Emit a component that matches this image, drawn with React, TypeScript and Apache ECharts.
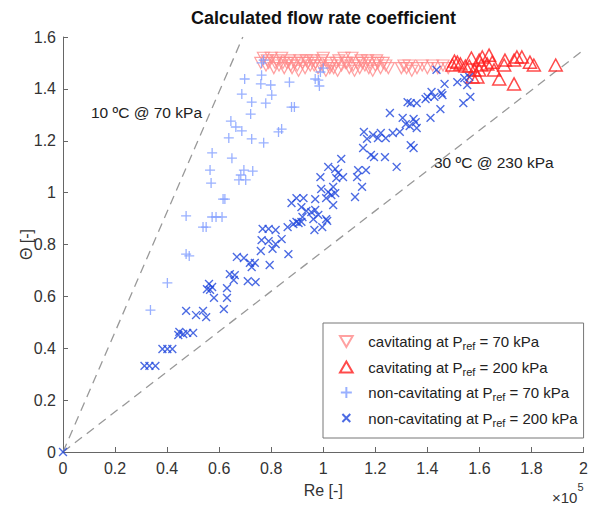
import React, { useEffect, useRef } from "react";
import * as echarts from "echarts";

const FONT = '"Liberation Sans", Arial, Helvetica, sans-serif';

// Re in units of 1e5, Theta [-]
const cav70: number[][] = [
  [0.76, 1.5], [0.77, 1.52], [0.78, 1.49], [0.785, 1.51], [0.79, 1.5], [0.8, 1.52], [0.81, 1.48], [0.815, 1.5],
  [0.82, 1.51], [0.83, 1.49], [0.84, 1.52], [0.845, 1.5], [0.85, 1.48], [0.86, 1.5], [0.87, 1.51], [0.875, 1.49],
  [0.88, 1.48], [0.89, 1.5], [0.9, 1.49], [0.905, 1.47], [0.91, 1.51], [0.92, 1.5], [0.93, 1.48], [0.935, 1.51],
  [0.94, 1.5], [0.95, 1.49], [0.96, 1.51], [0.965, 1.49], [0.97, 1.5], [0.98, 1.48], [0.99, 1.49], [0.995, 1.51],
  [1.0, 1.52], [1.01, 1.47], [1.02, 1.5], [1.025, 1.48], [1.03, 1.49], [1.04, 1.48], [1.05, 1.5], [1.055, 1.47],
  [1.06, 1.51], [1.07, 1.49], [1.08, 1.52], [1.085, 1.5], [1.09, 1.5], [1.1, 1.48], [1.11, 1.52], [1.115, 1.49],
  [1.12, 1.47], [1.13, 1.5], [1.14, 1.48], [1.145, 1.51], [1.15, 1.5], [1.16, 1.49], [1.17, 1.51], [1.175, 1.48],
  [1.18, 1.5], [1.19, 1.47], [1.2, 1.49], [1.205, 1.51], [1.21, 1.5], [1.22, 1.48], [1.23, 1.5], [1.24, 1.49],
  [1.25, 1.48], [1.3, 1.48], [1.31, 1.49], [1.32, 1.48], [1.33, 1.49], [1.34, 1.47], [1.36, 1.48], [1.38, 1.49],
  [1.4, 1.48], [1.42, 1.49], [1.44, 1.48], [1.46, 1.49], [1.48, 1.48],
];

const cav200: number[][] = [
  [1.496, 1.492], [1.504, 1.507], [1.515, 1.503], [1.527, 1.496], [1.546, 1.488], [1.561, 1.488], [1.569, 1.519],
  [1.573, 1.446], [1.58, 1.473], [1.592, 1.446], [1.599, 1.511], [1.599, 1.473], [1.607, 1.492], [1.611, 1.523],
  [1.63, 1.496], [1.637, 1.53], [1.649, 1.503], [1.656, 1.473], [1.676, 1.438], [1.695, 1.492], [1.698, 1.511],
  [1.733, 1.511], [1.733, 1.419], [1.744, 1.523], [1.763, 1.523], [1.794, 1.503], [1.809, 1.492], [1.893, 1.492],
];

const nonCav70: number[][] = [
  [0.763, 1.5], [0.771, 1.511], [0.698, 1.438], [0.763, 1.453], [0.76, 1.419], [0.798, 1.415], [0.802, 1.376],
  [0.87, 1.426], [0.687, 1.38], [0.725, 1.349], [0.779, 1.345], [0.878, 1.33], [0.889, 1.33], [0.721, 1.303],
  [0.645, 1.276], [0.664, 1.253], [0.687, 1.238], [0.637, 1.211], [0.725, 1.207], [0.771, 1.192], [0.84, 1.245],
  [0.828, 1.234], [0.573, 1.153], [0.649, 1.133], [0.565, 1.087], [0.695, 1.087], [0.729, 1.083], [0.683, 1.068],
  [0.676, 1.049], [0.702, 1.049], [0.569, 1.037], [0.615, 0.975], [0.622, 0.975], [0.473, 0.91], [0.573, 0.906],
  [0.588, 0.906], [0.611, 0.906], [0.538, 0.867], [0.55, 0.867], [0.473, 0.763], [0.485, 0.756], [0.401, 0.652],
  [0.336, 0.547], [1.0, 1.48], [0.989, 1.465], [0.969, 1.438], [0.981, 1.434], [0.985, 1.411],
];

const nonCav200: number[][] = [
  [0, 0],
  [0.313, 0.332], [0.332, 0.332], [0.355, 0.332], [0.382, 0.397], [0.401, 0.397], [0.42, 0.397],
  [0.447, 0.463], [0.443, 0.451], [0.462, 0.455], [0.477, 0.459], [0.5, 0.459], [0.473, 0.544], [0.511, 0.528],
  [0.538, 0.544], [0.55, 0.52], [0.561, 0.648], [0.573, 0.636], [0.553, 0.628], [0.58, 0.594], [0.565, 0.625],
  [0.618, 0.551], [0.63, 0.632], [0.63, 0.594], [0.641, 0.686], [0.66, 0.682], [0.656, 0.663], [0.668, 0.752],
  [0.695, 0.748], [0.718, 0.729], [0.737, 0.729], [0.725, 0.713], [0.71, 0.659], [0.74, 0.655], [0.794, 0.721],
  [0.76, 0.775], [0.767, 0.86], [0.79, 0.86], [0.817, 0.856], [0.763, 0.817], [0.79, 0.813], [0.817, 0.802],
  [0.84, 0.821], [0.805, 0.783], [0.866, 0.763], [0.863, 0.867], [0.885, 0.879], [0.897, 0.887], [0.905, 0.883],
  [0.916, 0.887], [0.92, 0.906], [0.878, 0.96], [0.897, 0.979], [0.924, 0.979], [0.916, 0.944], [0.935, 0.929],
  [0.954, 0.925], [0.969, 0.933], [0.962, 0.898], [0.966, 0.856], [0.981, 0.914], [0.996, 0.867], [1.011, 0.898],
  [1.015, 0.891], [0.969, 0.975], [0.992, 1.014], [1.019, 1.002], [1.011, 0.979], [1.031, 0.991], [1.046, 0.998],
  [1.038, 0.952], [0.989, 1.06], [1.019, 1.099], [1.046, 1.091], [1.057, 1.076], [1.076, 1.06], [1.05, 1.056],
  [1.069, 1.13], [1.038, 1.022], [1.122, 0.983], [1.149, 1.022], [1.134, 1.087], [1.164, 1.087], [1.13, 1.06],
  [1.156, 1.234], [1.191, 1.222], [1.221, 1.23], [1.24, 1.21], [1.267, 1.23], [1.294, 1.234], [1.168, 1.207],
  [1.21, 1.21], [1.153, 1.172], [1.183, 1.145], [1.195, 1.137], [1.237, 1.137], [1.282, 1.099], [1.336, 1.183],
  [1.347, 1.172], [1.305, 1.288], [1.317, 1.264], [1.332, 1.257], [1.355, 1.272], [1.359, 1.249], [1.347, 1.284],
  [1.256, 1.307], [1.324, 1.349], [1.336, 1.345], [1.359, 1.345], [1.393, 1.361], [1.401, 1.369], [1.416, 1.388],
  [1.427, 1.369], [1.412, 1.288], [1.45, 1.322], [1.454, 1.384], [1.466, 1.419], [1.458, 1.376], [1.515, 1.426],
  [1.542, 1.442], [1.561, 1.446], [1.553, 1.415], [1.565, 1.369], [1.538, 1.345], [1.435, 1.473],
];

const line10C: number[][] = [[0, 0], [0.691, 1.6]];
const line30C: number[][] = [[0, 0], [2, 1.55]];

const seriesNames = [
  "cavitating at Pref = 70 kPa",
  "cavitating at Pref = 200 kPa",
  "non-cavitating at Pref = 70 kPa",
  "non-cavitating at Pref = 200 kPa",
];

const legendRich = (name: string) => {
  const i = name.indexOf("Pref");
  return `{b|${name.slice(0, i)}P}{sub|ref}{b|${name.slice(i + 4)}}`;
};

export default function App() {
  const ref = useRef<HTMLDivElement>(null);
  useEffect(() => {
    document.body.style.margin = "0";
    const chart = echarts.init(ref.current!, undefined, { renderer: "svg" });
    const hollow = (c: string, w: number) => ({ color: "rgba(0,0,0,0)", borderColor: c, borderWidth: w });
    chart.setOption({
      animation: false,
      backgroundColor: "#ffffff",
      textStyle: { fontFamily: FONT },
      grid: { left: 63, right: 4, top: 37, bottom: 57, containLabel: false },
      xAxis: {
        type: "value", min: 0, max: 2, interval: 0.2,
        name: "Re [-]", nameLocation: "middle", nameGap: 30, nameMoveOverlap: false,
        nameTextStyle: { fontSize: 16, color: "#333", fontFamily: FONT },
        axisLine: { show: true, lineStyle: { color: "#666", width: 1 } },
        axisTick: { show: true, inside: true, length: 5, lineStyle: { color: "#666" } },
        axisLabel: { fontSize: 16, color: "#333", margin: 8, fontFamily: FONT },
        splitLine: { show: false },
      },
      yAxis: {
        type: "value", min: 0, max: 1.6, interval: 0.2,
        name: "Θ [-]", nameLocation: "middle", nameGap: 29, nameRotate: 90, nameMoveOverlap: false,
        nameTextStyle: { fontSize: 16, color: "#333", fontFamily: FONT },
        axisLine: { show: true, lineStyle: { color: "#666", width: 1 } },
        axisTick: { show: true, inside: true, length: 5, lineStyle: { color: "#666" } },
        axisLabel: { fontSize: 16, color: "#333", margin: 7, fontFamily: FONT },
        splitLine: { show: false },
      },
      legend: {
        data: seriesNames,
        orient: "vertical", left: 323, top: 323,
        padding: [11, 6, 10, 16], itemGap: 8, itemWidth: 34, itemHeight: 11,
        borderColor: "#777", borderWidth: 1, backgroundColor: "#fff",
        formatter: legendRich,
        textStyle: {
          fontFamily: FONT, color: "#222", fontSize: 15,
          rich: {
            b: { fontSize: 15, lineHeight: 20, color: "#222", fontFamily: FONT },
            sub: { fontSize: 11, lineHeight: 6, verticalAlign: "bottom", color: "#222", fontFamily: FONT },
          },
        },
      },
      graphic: [
        { type: "text", left: 325 - 134, top: 9, style: { text: "Calculated flow rate coefficient", font: `bold 18px ${FONT}`, fill: "#111" } },
        { type: "text", left: 91, top: 104, style: { text: "10 ºC @ 70 kPa", font: `15.5px ${FONT}`, fill: "#222" } },
        { type: "text", left: 434, top: 154, style: { text: "30 ºC @ 230 kPa", font: `15.5px ${FONT}`, fill: "#222" } },
        {
          type: "text", left: 552, top: 481,
          style: {
            text: "{a|×10}{s|5}",
            rich: {
              a: { fontSize: 15, fontFamily: FONT, fill: "#333", lineHeight: 20, verticalAlign: "bottom" },
              s: { fontSize: 11, fontFamily: FONT, fill: "#333", lineHeight: 24, verticalAlign: "top" },
            },
          },
        },
      ],
      series: [
        {
          type: "line", data: line10C, symbol: "none", silent: true, z: 1,
          lineStyle: { color: "#999", width: 1.3, type: [9, 6] },
        },
        {
          type: "line", data: line30C, symbol: "none", silent: true, z: 1,
          lineStyle: { color: "#999", width: 1.3, type: [9, 6] },
        },
        {
          name: seriesNames[0], type: "scatter", data: cav70, z: 2,
          symbol: "path://M0,0 L10,0 L5,8.66 Z", symbolSize: [12, 11],
          itemStyle: hollow("#ff8a8a", 1.2),
        },
        {
          name: seriesNames[1], type: "scatter", data: cav200, z: 3,
          symbol: "path://M5,0 L10,8.66 L0,8.66 Z", symbolSize: [13, 12],
          itemStyle: hollow("#ff1e1e", 1.5),
        },
        {
          name: seriesNames[2], type: "scatter", data: nonCav70, z: 4,
          symbol: "path://M5,0 L5,10 M0,5 L10,5", symbolSize: 10,
          itemStyle: hollow("#7f9cff", 1.3),
        },
        {
          name: seriesNames[3], type: "scatter", data: nonCav200, z: 5,
          symbol: "path://M-2,-2 M0,0 L10,10 M10,0 L0,10 M12,12", symbolSize: 11,
          itemStyle: hollow("#1f46dc", 1.4),
        },
      ],
    });
    return () => chart.dispose();
  }, []);
  return <div ref={ref} style={{ width: 591, height: 509 }} />;
}
